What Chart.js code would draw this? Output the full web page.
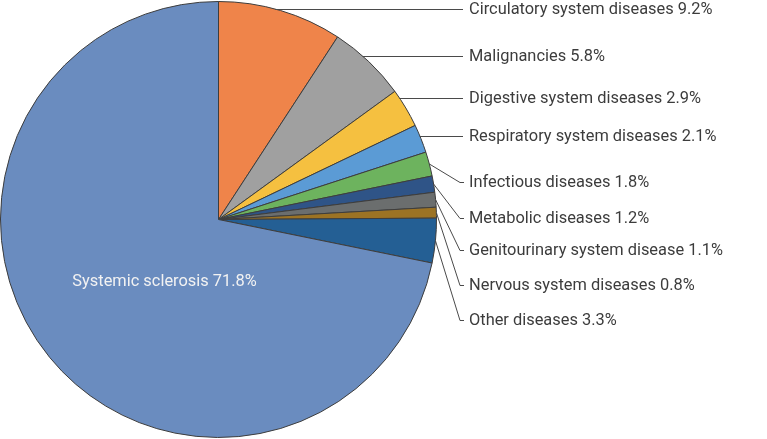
<!DOCTYPE html>
<html>
<head>
<meta charset="utf-8">
<script src="https://cdn.jsdelivr.net/npm/chart.js@4/dist/chart.umd.min.js"></script>
<style>
  body { margin: 0; background: #fff; }
  #wrap { width: 767px; height: 439px; position: relative; }
</style>
</head>
<body>
<div id="wrap"><canvas id="pie"></canvas></div>
<script>
// causes of death, percent
const labels = [
    "Circulatory system diseases",
    "Malignancies",
    "Digestive system diseases",
    "Respiratory system diseases",
    "Infectious diseases",
    "Metabolic diseases",
    "Genitourinary system disease",
    "Nervous system diseases",
    "Other diseases",
    "Systemic sclerosis"
];
const values = [9.2, 5.8, 2.9, 2.1, 1.8, 1.2, 1.1, 0.8, 3.3, 71.8];
const colors = ["#ef844a", "#a0a0a0", "#f5c040", "#5b9bd5", "#6db35e",
                "#2f5487", "#6b6e6e", "#9c7324", "#245f94", "#6a8cbf"];

// y position of each right-hand label
const labelY = [9, 56, 98, 136, 182, 218, 250, 285, 320];
const FONT = "16.4px Roboto";

const leaderLabels = {
    id: "leaderLabels",
    afterDraw(chart) {
        const ctx = chart.ctx;
        const arcs = chart.getDatasetMeta(0).data;
        ctx.save();
        ctx.font = FONT;
        ctx.textBaseline = "middle";
        ctx.lineWidth = 1;
        ctx.strokeStyle = "#4a4a4a";
        arcs.forEach((arc, i) => {
            const text = labels[i] + " " + values[i].toFixed(1) + "%";
            const r = arc.outerRadius;
            if (i === labels.length - 1) {
                // big slice, label inside
                const mid = (arc.startAngle + arc.endAngle) / 2 - 0.17;
                ctx.fillStyle = "#f2f2f2";
                ctx.textAlign = "center";
                ctx.fillText(text, arc.x + Math.cos(mid) * r * 0.377, arc.y + Math.sin(mid) * r * 0.377);
                return;
            }
            const ly = labelY[i];
            ctx.beginPath();
            if (i < 4) {
                const dy = ly - arc.y;
                const sx = arc.x + Math.sqrt(r * r - dy * dy);
                ctx.moveTo(sx, ly + 0.5);
                ctx.lineTo(463, ly + 0.5);
            } else {
                const mid = (arc.startAngle + arc.endAngle) / 2;
                ctx.moveTo(arc.x + Math.cos(mid) * r, arc.y + Math.sin(mid) * r);
                ctx.lineTo(460, ly + 0.5);
                ctx.lineTo(464, ly + 0.5);
            }
            ctx.stroke();
            ctx.fillStyle = "#3c3c3c";
            ctx.textAlign = "left";
            ctx.fillText(text, 469, ly + 1);
        });
        ctx.restore();
    }
};

new Chart(document.getElementById("pie"), {
    type: 'pie',
    data: {
        labels: labels,
        datasets: [{
            data: values,
            backgroundColor: colors,
            borderColor: "#3d3d3d",
            borderWidth: 1
        }]
    },
    options: {
        responsive: true,
        maintainAspectRatio: false,
        animation: false,
        layout: { padding: { left: 0, right: 330, top: 0, bottom: 0 } },
        plugins: {
            legend: { display: false },
            tooltip: { enabled: false }
        }
    },
    plugins: [leaderLabels]
});
</script>
</body>
</html>
